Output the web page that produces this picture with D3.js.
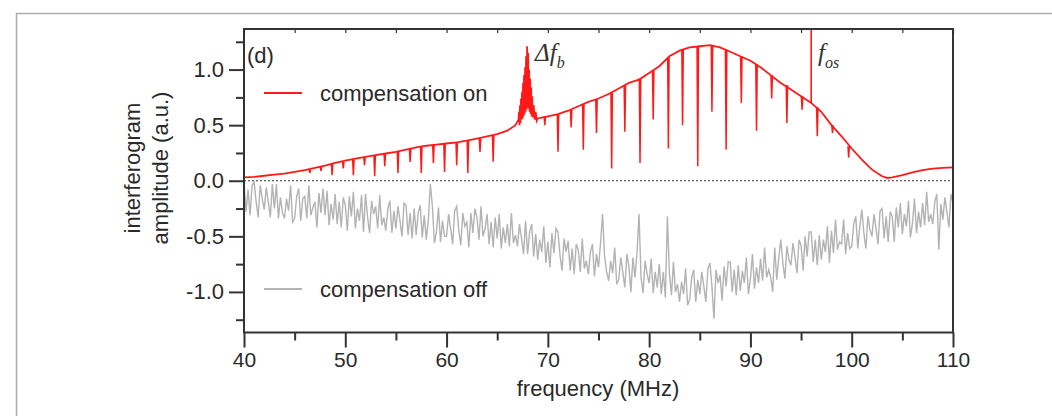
<!DOCTYPE html>
<html>
<head>
<meta charset="utf-8">
<script src="https://cdn.jsdelivr.net/npm/d3@7"></script>
<style>
  body { margin: 0; background: #fff; }
  svg { display: block; font-family: "Liberation Sans", Arial, sans-serif; }
  .axis path, .axis line { stroke: #333; }
  .axis text { fill: #2a2a2a; }
</style>
</head>
<body>
<script>
// values

// red trace: smooth part [MHz, a.u.]
var redBase = [
  [40, 0.03], [41, 0.035], [42, 0.045], [43, 0.055], [44, 0.065], [45, 0.08], [46, 0.095],
  [47, 0.115], [48, 0.135], [49, 0.16], [50, 0.18], [51, 0.2], [52, 0.215], [53, 0.23],
  [54, 0.245], [55, 0.26], [56, 0.28], [57, 0.3], [58, 0.315], [59, 0.325], [60, 0.335],
  [61, 0.345], [62, 0.36], [63, 0.38], [64, 0.4], [65, 0.42], [66, 0.45], [66.8, 0.5],
  [67.1, 0.55],
  [67.15, 0.62], [67.2, 0.5], [67.25, 0.68], [67.3, 0.52], [67.35, 0.74], [67.4, 0.55],
  [67.45, 0.8], [67.5, 0.56], [67.55, 0.88], [67.6, 0.58], [67.65, 0.95], [67.7, 0.6],
  [67.75, 1.02], [67.8, 0.62], [67.85, 1.12], [67.9, 0.64], [67.95, 1.21], [68.0, 0.66],
  [68.05, 1.15], [68.1, 0.65], [68.15, 1.0], [68.2, 0.62], [68.25, 0.92], [68.3, 0.6],
  [68.35, 0.84], [68.4, 0.58], [68.45, 0.76], [68.5, 0.57], [68.6, 0.68], [68.7, 0.55],
  [68.8, 0.62], [68.9, 0.54], [69.0, 0.56],
  [70, 0.58], [71, 0.6], [72, 0.63], [73, 0.67], [74, 0.71], [75, 0.74], [76, 0.78],
  [77, 0.83], [78, 0.88], [79, 0.91], [80, 0.97], [81, 1.03], [82, 1.12], [83, 1.17],
  [84, 1.2], [85, 1.21], [86, 1.22], [87, 1.2], [88, 1.16], [89, 1.12], [90, 1.08],
  [91, 1.02], [92, 0.95], [93, 0.88], [94, 0.82], [95, 0.76], [96, 0.7], [97, 0.62],
  [98, 0.5], [99, 0.4], [100, 0.29], [101, 0.19], [102, 0.1], [103, 0.04], [103.5, 0.025],
  [104, 0.03], [105, 0.05], [106, 0.075], [107, 0.095], [108, 0.11], [109, 0.115], [110, 0.12]
];

// narrow dips on the red trace: [MHz, top, bottom]
var redDips = [
  [46.5, 0.1, 0.07], [47.6, 0.125, 0.09], [48.7, 0.15, 0.05], [49.8, 0.17, 0.11],
  [50.8, 0.19, 0.05], [51.9, 0.21, 0.14], [52.9, 0.23, 0.04], [53.9, 0.245, 0.13],
  [55.2, 0.26, 0.07], [56.4, 0.285, 0.17], [57.5, 0.305, 0.07], [58.7, 0.32, 0.16],
  [59.8, 0.33, 0.08], [61.0, 0.345, 0.14], [62.1, 0.36, 0.07], [63.3, 0.38, 0.26],
  [64.6, 0.41, 0.17],
  [69.7, 0.58, 0.5], [71.0, 0.6, 0.26], [72.3, 0.64, 0.48], [73.5, 0.69, 0.28],
  [74.8, 0.73, 0.43], [76.3, 0.79, 0.11], [77.6, 0.86, 0.44], [79.1, 0.92, 0.16],
  [80.4, 0.99, 0.55], [81.9, 1.11, 0.29], [83.3, 1.18, 0.5], [84.8, 1.21, 0.13],
  [86.2, 1.22, 0.62], [87.6, 1.18, 0.28], [89.1, 1.12, 0.7], [90.6, 1.05, 0.45],
  [92.1, 0.95, 0.74], [93.6, 0.86, 0.52], [95.1, 0.76, 0.64], [96.6, 0.66, 0.4],
  [98.1, 0.5, 0.43], [99.7, 0.31, 0.21]
];

// the f_os line
var fosLine = [96.0, 0.7, 1.5];

// grey trace, one value every 0.2 MHz from 40 MHz (five per row = 1 MHz)
var greyStart = 40, greyStep = 0.2;
var greyVals = [
  -0.01, -0.28, -0.08, -0.31, -0.04,
  -0.01, -0.19, -0.33, -0.04, -0.16,
  -0.26, -0.06, -0.19, -0.33, -0.03,
  -0.25, -0.03, -0.34, -0.15, -0.29,
  -0.34, -0.16, -0.27, -0.04, -0.37,
  -0.34, -0.14, -0.07, -0.36, -0.16,
  -0.14, -0.34, -0.04, -0.31, -0.24,
  -0.19, -0.42, -0.11, -0.29, -0.07,
  -0.31, -0.09, -0.4, -0.21, -0.35,
  -0.12, -0.39, -0.19, -0.42, -0.15,
  -0.22, -0.45, -0.14, -0.32, -0.1,
  -0.43, -0.25, -0.36, -0.13, -0.46,
  -0.12, -0.33, -0.47, -0.18, -0.3,
  -0.23, -0.43, -0.13, -0.4, -0.33,
  -0.45, -0.25, -0.18, -0.47, -0.27,
  -0.43, -0.23, -0.36, -0.5, -0.2,
  -0.22, -0.49, -0.29, -0.52, -0.25,
  -0.49, -0.29, -0.22, -0.51, -0.31,
  -0.53, -0.35, -0.03, -0.23, -0.56,
  -0.46, -0.24, -0.55, -0.36, -0.5,
  -0.5, -0.3, -0.43, -0.57, -0.27,
  -0.23, -0.44, -0.58, -0.29, -0.41,
  -0.37, -0.6, -0.29, -0.47, -0.25,
  -0.33, -0.53, -0.23, -0.5, -0.43,
  -0.3, -0.57, -0.37, -0.6, -0.33,
  -0.52, -0.3, -0.61, -0.42, -0.56,
  -0.39, -0.59, -0.29, -0.56, -0.49,
  -0.59, -0.39, -0.52, -0.66, -0.36,
  -0.66, -0.46, -0.39, -0.68, -0.48,
  -0.71, -0.53, -0.64, -0.41, -0.74,
  -0.55, -0.78, -0.47, -0.65, -0.43,
  -0.46, -0.67, -0.81, -0.52, -0.64,
  -0.54, -0.81, -0.61, -0.84, -0.57,
  -0.62, -0.82, -0.52, -0.79, -0.72,
  -0.84, -0.64, -0.57, -0.86, -0.66,
  -0.78, -0.56, -0.3, -0.68, -0.82,
  -0.9, -0.72, -0.83, -0.6, -0.93,
  -0.89, -0.69, -0.82, -0.96, -0.66,
  -0.77, -1.0, -0.69, -0.87, -0.65,
  -0.3, -0.87, -1.01, -0.72, -0.84,
  -0.92, -0.7, -1.01, -0.82, -0.96,
  -0.75, -1.02, -0.82, -1.05, -0.32,
  -0.83, -1.03, -0.73, -1.0, -0.93,
  -1.09, -0.91, -1.02, -0.79, -1.12,
  -1.07, -0.87, -0.8, -1.09, -0.89,
  -1.02, -0.82, -0.95, -1.09, -0.79,
  -0.74, -0.95, -1.24, -0.8, -0.92,
  -0.85, -1.08, -0.77, -0.95, -0.73,
  -0.73, -1.0, -0.8, -1.03, -0.76,
  -0.99, -0.81, -0.92, -0.69, -1.02,
  -0.88, -0.66, -0.97, -0.78, -0.92,
  -0.7, -0.9, -0.6, -0.87, -0.8,
  -0.87, -1.0, -0.6, -0.89, -0.69,
  -0.53, -0.74, -0.88, -0.59, -0.71,
  -0.76, -0.56, -0.69, -0.83, -0.53,
  -0.58, -0.81, -0.5, -0.68, -0.46,
  -0.46, -0.73, -0.53, -0.76, -0.49,
  -0.71, -0.53, -0.64, -0.41, -0.74,
  -0.45, -0.65, -0.35, -0.62, -0.55,
  -0.57, -0.35, -0.66, -0.47, -0.61,
  -0.59, -0.39, -0.32, -0.61, -0.41,
  -0.26, -0.47, -0.61, -0.32, -0.44,
  -0.5, -0.3, -0.43, -0.57, -0.27,
  -0.25, -0.52, -0.32, -0.55, -0.28,
  -0.32, -0.55, -0.24, -0.42, -0.2,
  -0.48, -0.3, -0.41, -0.18, -0.51,
  -0.38, -0.16, -0.47, -0.28, -0.42,
  -0.2, -0.4, -0.1, -0.37, -0.3,
  -0.39, -0.19, -0.12, -0.62, -0.21,
  -0.35, -0.15, -0.28, -0.42, -0.12,
  -0.2
];

var xMajor = [40, 50, 60, 70, 80, 90, 100, 110];
var xMinor = [45, 55, 65, 75, 85, 95, 105];
var yMajor = [-1.0, -0.5, 0.0, 0.5, 1.0];
var yMinor = [-1.25, -0.75, -0.25, 0.25, 0.75, 1.25];

var W = 1052, H = 416;
var box = {left: 244, right: 953, top: 29, bottom: 332.5};

var svg = d3.select("body").append("svg").attr("width", W).attr("height", H);

// outer figure frame (runs off the right and bottom)
svg.append("path")
  .attr("d", "M16.5," + (H + 5) + "V13.5H" + (W + 5))
  .attr("fill", "none").attr("stroke", "#aaa").attr("stroke-width", 1.5);

var x = d3.scaleLinear().domain([40, 110]).range([box.left, box.right]);
var y = d3.scaleLinear().domain([-1.365, 1.365]).range([box.bottom, box.top]);

svg.append("clipPath").attr("id", "clip")
  .append("rect").attr("x", box.left).attr("y", box.top)
  .attr("width", box.right - box.left).attr("height", box.bottom - box.top);

var plot = svg.append("g").attr("clip-path", "url(#clip)");

// zero line
plot.append("line")
  .attr("x1", box.left).attr("x2", box.right)
  .attr("y1", y(0)).attr("y2", y(0))
  .attr("stroke", "#333").attr("stroke-width", 1).attr("stroke-dasharray", "2,2");

var line = d3.line().x(function(d) { return x(d[0]); }).y(function(d) { return y(d[1]); });

// grey trace
var grey = greyVals.map(function(v, i) { return [greyStart + i * greyStep, v]; });
plot.append("path").datum(grey)
  .attr("d", line)
  .attr("fill", "none").attr("stroke", "#b3b3b3").attr("stroke-width", 1.4);

// red trace
var red = "#ff1a1a";
plot.append("path").datum(redBase)
  .attr("d", line)
  .attr("fill", "none").attr("stroke", red).attr("stroke-width", 1.8);

plot.selectAll(".dip").data(redDips).enter().append("path")
  .attr("class", "dip")
  .attr("d", function(d) {
    return line([[d[0] - 0.07, d[1]], [d[0], d[2]], [d[0] + 0.07, d[1]]]);
  })
  .attr("fill", "none").attr("stroke", red).attr("stroke-width", 1.5);

plot.append("line")
  .attr("x1", x(fosLine[0])).attr("x2", x(fosLine[0]))
  .attr("y1", y(fosLine[1])).attr("y2", y(fosLine[2]))
  .attr("stroke", red).attr("stroke-width", 1.6);

var dash = function(v) { return d3.format(".1f")(v).replace("\u2212", "-"); };
var tidy = function(g) { g.selectAll("line").attr("stroke-width", 2); g.select(".domain").remove(); };

// axes
svg.append("g").attr("class", "axis")
  .attr("transform", "translate(0," + box.bottom + ")")
  .call(d3.axisBottom(x).tickValues(xMinor).tickSize(8).tickFormat(""))
  .call(tidy);

svg.append("g").attr("class", "axis")
  .attr("transform", "translate(0," + box.bottom + ")")
  .call(d3.axisBottom(x).tickValues(xMajor).tickSize(15).tickPadding(5).tickFormat(d3.format("d")))
  .call(tidy)
  .attr("font-size", 21).attr("font-family", null);

// short inward ticks along the top
svg.append("g").attr("class", "axis")
  .attr("transform", "translate(0," + box.top + ")")
  .call(d3.axisBottom(x).tickValues(xMajor.concat(xMinor)).tickSize(4).tickFormat(""))
  .call(tidy)
  .selectAll("line").attr("stroke-width", 1.2).attr("stroke", "#777");

svg.append("g").attr("class", "axis")
  .attr("transform", "translate(" + box.left + ",0)")
  .call(d3.axisLeft(y).tickValues(yMinor).tickSize(8).tickFormat(""))
  .call(tidy);

svg.append("g").attr("class", "axis")
  .attr("transform", "translate(" + box.left + ",0)")
  .call(d3.axisLeft(y).tickValues(yMajor).tickSize(15).tickPadding(5).tickFormat(dash))
  .call(tidy)
  .attr("font-size", 22).attr("font-family", null);

// plot frame
svg.append("rect")
  .attr("x", box.left).attr("y", box.top)
  .attr("width", box.right - box.left).attr("height", box.bottom - box.top)
  .attr("fill", "none").attr("stroke", "#333").attr("stroke-width", 2);

// axis titles
svg.append("text")
  .attr("x", 598).attr("y", 396)
  .attr("text-anchor", "middle").attr("font-size", 22).attr("fill", "#2a2a2a")
  .text("frequency (MHz)");

var yt = svg.append("g").attr("transform", "translate(140,168) rotate(-90)");
yt.append("text").attr("x", 0).attr("y", 0)
  .attr("text-anchor", "middle").attr("font-size", 22).attr("fill", "#2a2a2a")
  .text("interferogram");
yt.append("text").attr("x", 0).attr("y", 28)
  .attr("text-anchor", "middle").attr("font-size", 22).attr("fill", "#2a2a2a")
  .text("amplitude (a.u.)");

svg.append("text")
  .attr("x", 247).attr("y", 63)
  .attr("font-size", 22).attr("fill", "#2a2a2a")
  .text("(d)");

// legend
var legend = [
  {label: "compensation on", color: red, y: 93},
  {label: "compensation off", color: "#b3b3b3", y: 289}
];
legend.forEach(function(d) {
  svg.append("line")
    .attr("x1", 264).attr("x2", 302).attr("y1", d.y).attr("y2", d.y)
    .attr("stroke", d.color).attr("stroke-width", 1.8);
  svg.append("text")
    .attr("x", 320).attr("y", d.y + 8)
    .attr("font-size", 22).attr("fill", "#2a2a2a")
    .text(d.label);
});

// annotations
function label(xp, yp, main, sub) {
  var t = svg.append("text")
    .attr("x", xp).attr("y", yp)
    .attr("font-family", "'Liberation Serif', 'Times New Roman', serif")
    .attr("font-style", "italic").attr("font-size", 25).attr("fill", "#333");
  t.append("tspan").text(main);
  t.append("tspan").attr("dy", 7).attr("font-size", 16).text(sub);
}
label(535, 61, "\u0394f", "b");
label(818, 61, "f", "os");
</script>
</body>
</html>
